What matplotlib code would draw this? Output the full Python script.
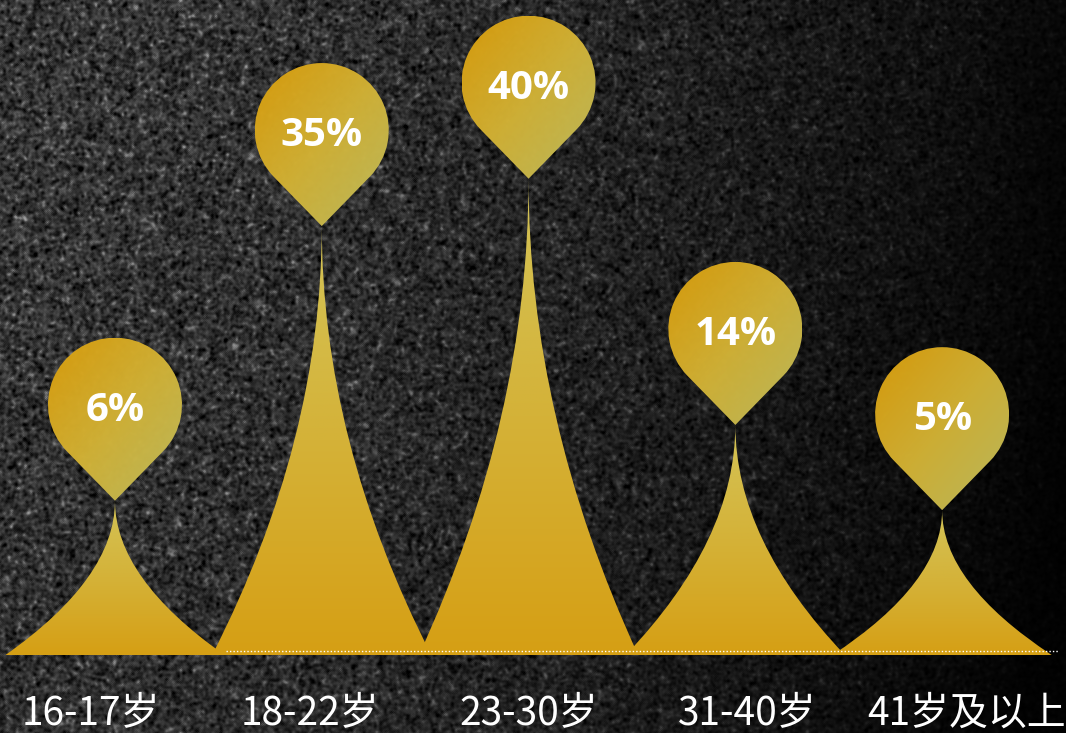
import numpy as np
import matplotlib
matplotlib.use('Agg')
import matplotlib.pyplot as plt
import matplotlib.transforms as mtransforms
from matplotlib.path import Path
from matplotlib.patches import PathPatch
from matplotlib.colors import LinearSegmentedColormap

# share of users per age group
AGE_GROUPS = ['16-17岁', '18-22岁', '23-30岁', '31-40岁', '41岁及以上']
SHARE = [6, 35, 40, 14, 5]
SHARE_LABELS = ['6%', '35%', '40%', '14%', '5%']

# layout (value units on y, category units on x)
FLOOR = -10.3          # level the spikes stand on
HALF_W = 0.53          # half the base width of a spike
LABEL_SPREAD = 1.0585  # category labels sit a bit wider apart than the spikes
PIN_R = 0.67           # pin head radius, inches
PIN_D = 0.96           # tip -> head centre, inches

SPIKE_CMAP = LinearSegmentedColormap.from_list('spike', ['#d69f14', '#d4b238', '#d4c457'])
PIN_CMAP = LinearSegmentedColormap.from_list('pin', ['#da9d0b', '#d2b236', '#bebc5e'])


def blur(a, n):
    for _ in range(n):
        a = (a + np.roll(a, 1, 0) + np.roll(a, -1, 0)
             + np.roll(a, 1, 1) + np.roll(a, -1, 1)) / 5
    return a


def granite(h, w, seed=3):
    """Dark speckled stone backdrop, lit from the upper left."""
    rng = np.random.default_rng(seed)
    g = blur(rng.normal(size=(h, w)), 4)
    g = (g - g.mean()) / g.std()
    fine = blur(rng.normal(size=(h, w)), 1)
    fine = (fine - fine.mean()) / fine.std()
    yy, xx = np.mgrid[0:h, 0:w]
    light = 1.05 - 0.9 * (xx / w) ** 1.6 - 0.15 * (yy / h)
    light = np.clip(light, 0.06, 1.0)
    grey = (0.21 + 0.07 * g + 0.012 * fine
            + 0.06 * np.clip(g - 1.4, 0, None)) * light
    return np.clip(grey, 0, 1)


def spike_path(cx, top):
    """Concave spike: each flank is a parabola meeting at the tip."""
    mid = FLOOR + 0.5 * (top - FLOOR)
    verts = [(cx - HALF_W, FLOOR), (cx, mid), (cx, top),
             (cx, mid), (cx + HALF_W, FLOOR), (cx - HALF_W, FLOOR)]
    codes = [Path.MOVETO, Path.CURVE3, Path.CURVE3,
             Path.CURVE3, Path.CURVE3, Path.CLOSEPOLY]
    return Path(verts, codes)


def pin_path(r, d):
    """Map-pin outline with its point at the origin (inches)."""
    a = np.degrees(np.arcsin(r / d))
    arc = Path.arc(-a, 180 + a)
    verts = arc.vertices * r + [0, d]
    codes = arc.codes.copy()
    codes[0] = Path.LINETO
    verts = np.vstack([[0, 0], verts, [0, 0]])
    codes = np.concatenate([[Path.MOVETO], codes, [Path.CLOSEPOLY]])
    return Path(verts, codes)


fig = plt.figure(figsize=(10.66, 7.33), dpi=100, facecolor='black')
ax = fig.add_axes([0, 0, 1, 1])
ax.set_xlim(-0.556, 4.599)
ax.set_ylim(-18.53, 58.87)
ax.axis('off')

x0, x1 = ax.get_xlim()
y0, y1 = ax.get_ylim()
ax.imshow(granite(733, 1066), cmap='gray', vmin=0, vmax=1,
          extent=[x0, x1, y0, y1], aspect='auto', zorder=0)

xs = np.arange(len(SHARE))
vgrad = np.linspace(0, 1, 256).reshape(-1, 1)
gx, gy = np.meshgrid(np.linspace(0, 1, 64), np.linspace(0, 1, 64))
dgrad = (gx + (1 - gy)) / 2
pin = pin_path(PIN_R, PIN_D)

for x, v, lab in zip(xs, SHARE, SHARE_LABELS):
    # spike
    sp = PathPatch(spike_path(x, v), facecolor='none', edgecolor='none', zorder=2)
    ax.add_patch(sp)
    im = ax.imshow(vgrad, cmap=SPIKE_CMAP, origin='lower', aspect='auto',
                   extent=[x - HALF_W, x + HALF_W, FLOOR, v], zorder=2)
    im.set_clip_path(sp)

    # pin head sitting on the spike tip, sized in inches
    trans = fig.dpi_scale_trans + mtransforms.ScaledTranslation(x, v, ax.transData)
    pp = PathPatch(pin, facecolor='none', edgecolor='none', transform=trans, zorder=4)
    ax.add_patch(pp)
    pim = ax.imshow(dgrad, cmap=PIN_CMAP, origin='lower', aspect='auto', alpha=0.98,
                    extent=[-PIN_R, PIN_R, 0, PIN_D + PIN_R], transform=trans, zorder=4)
    pim.set_clip_path(pp)
    ax.text(0, 0.80, lab, transform=trans, ha='center', va='baseline',
            color='white', fontsize=29, fontweight='bold', family='Open Sans', zorder=5)

# dotted base line
ax.plot([0.537, 4.56], [FLOOR + 0.42] * 2, color='white', lw=1,
        ls=(0, (1, 1.5)), zorder=3)

# category labels along the bottom
lab_tr = mtransforms.blended_transform_factory(ax.transData, ax.transAxes)
for i, name in enumerate(AGE_GROUPS):
    ax.text(2 + (i - 2) * LABEL_SPREAD, 0.011, name, transform=lab_tr,
            ha='center', va='baseline', color='white', fontsize=28,
            family=['Noto Sans CJK SC', 'DejaVu Sans'], zorder=5)

fig.savefig('out.png', dpi=100, facecolor='black')
